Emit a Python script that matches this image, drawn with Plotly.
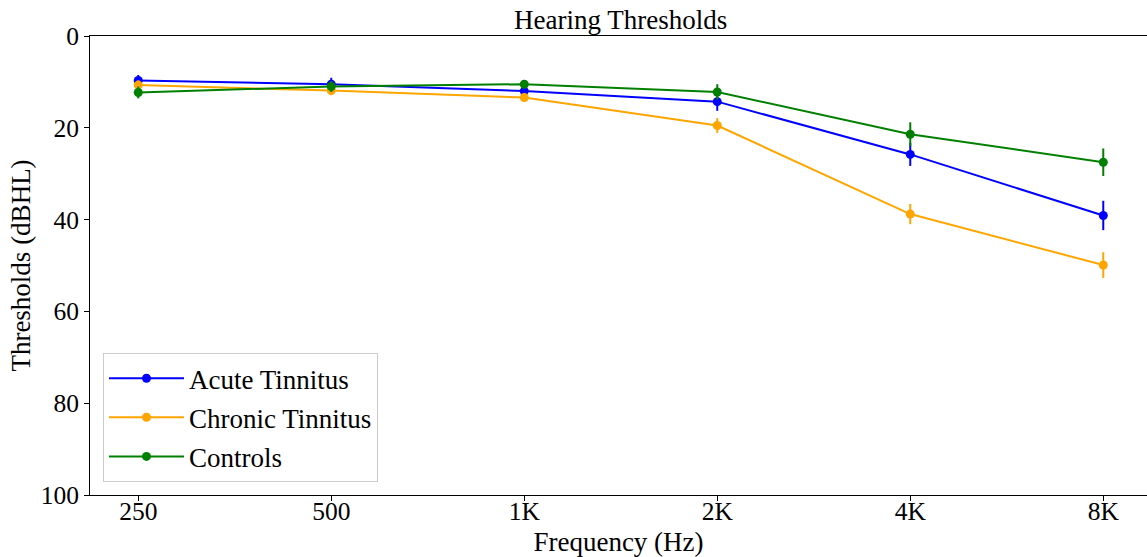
import plotly.graph_objects as go

freqs = ["250", "500", "1K", "2K", "4K", "8K"]
acute = [9.7, 10.5, 12.0, 14.3, 25.8, 39.1]
acute_err = [1.2, 1.4, 1.0, 2.0, 2.5, 3.2]
chronic = [10.7, 11.9, 13.4, 19.5, 38.8, 49.9]
chronic_err = [1.0, 1.0, 1.0, 1.6, 2.2, 2.8]
controls = [12.3, 11.0, 10.5, 12.2, 21.4, 27.5]
controls_err = [1.3, 1.2, 0.9, 1.7, 2.6, 3.0]

series = [
    ("Acute Tinnitus", acute, acute_err, "#0000ff"),
    ("Chronic Tinnitus", chronic, chronic_err, "#ffa500"),
    ("Controls", controls, controls_err, "#008000"),
]

FONT = "Liberation Serif, Times New Roman, serif"

fig = go.Figure()
for i, (name, vals, errs, col) in enumerate(series):
    fig.add_trace(go.Scatter(
        x=freqs, y=vals, name=name, mode="lines+markers",
        line=dict(color=col, width=2),
        marker=dict(color=col, size=9),
        error_y=dict(type="data", array=errs, color=col, thickness=2, width=0),
        legendgroup=f"g{i}",
    ))

W, H = 1147, 557
L, R, T, B = 90, 0, 36, 62
fig.update_layout(
    width=W, height=H,
    margin=dict(l=L, r=R, t=T, b=B),
    paper_bgcolor="white", plot_bgcolor="white",
    font=dict(family=FONT, color="black", size=25),
    title=dict(text="Hearing Thresholds", font=dict(size=27, family=FONT, color="black"),
               x=0.502, xref="paper", xanchor="center",
               y=1 - 20 / H, yref="container", yanchor="middle"),
    showlegend=True,
    legend=dict(x=0.0123, y=0.028, xanchor="left", yanchor="bottom",
                bordercolor="#cccccc", borderwidth=1, bgcolor="rgba(255,255,255,0.8)",
                font=dict(size=27, family=FONT), tracegroupgap=1,
                itemwidth=75),
    xaxis=dict(type="category", range=[-0.25, 5.2266],
               showline=True, linecolor="black", linewidth=1, mirror=True,
               ticks="outside", ticklen=5, tickcolor="black",
               ticklabelstandoff=-12,
               showgrid=False, zeroline=False,
               title=dict(text="Frequency (Hz)", font=dict(size=27, family=FONT), standoff=14),
               tickfont=dict(size=25.5, family=FONT)),
    yaxis=dict(range=[100, 0], tickvals=[0, 20, 40, 60, 80, 100],
               showline=True, linecolor="black", linewidth=1, mirror=False,
               ticks="outside", ticklen=5, tickcolor="black",
               showgrid=False, zeroline=False,
               title=dict(text="Thresholds (dBHL)", font=dict(size=27, family=FONT), standoff=2),
               tickfont=dict(size=25.5, family=FONT)),
)

fig.write_html("out.html")
